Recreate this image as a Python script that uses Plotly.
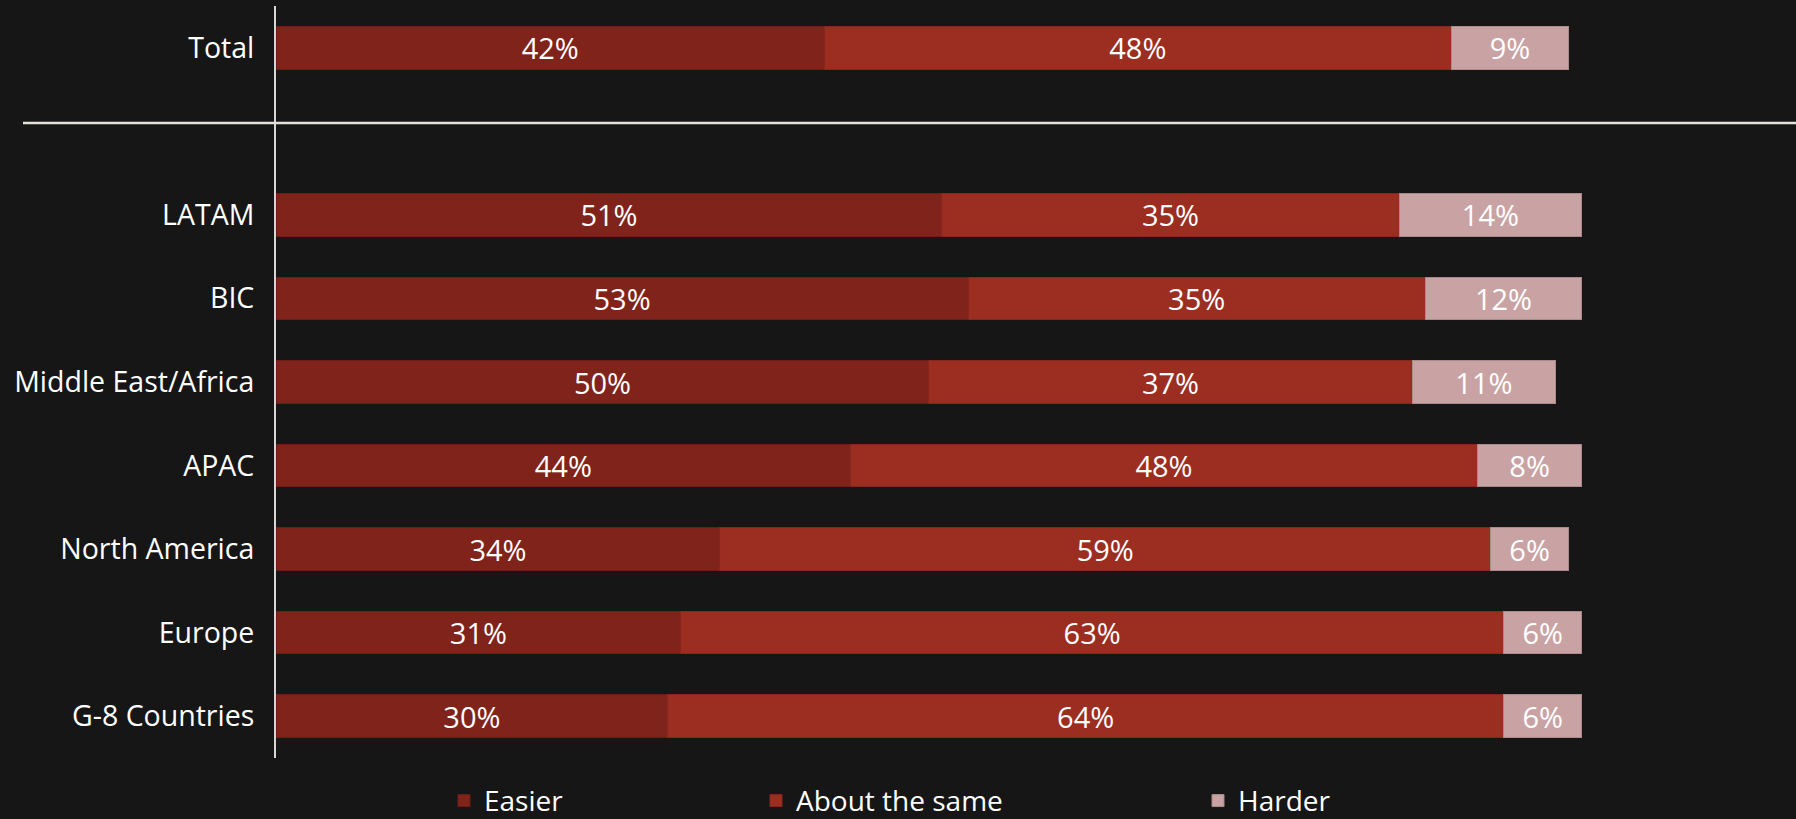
import plotly.graph_objects as go

# Survey results: share of respondents per region
categories = ["Total", "LATAM", "BIC", "Middle East/Africa", "APAC",
              "North America", "Europe", "G-8 Countries"]
easier = [42, 51, 53, 50, 44, 34, 31, 30]
about_same = [48, 35, 35, 37, 48, 59, 63, 64]
harder = [9, 14, 12, 11, 8, 6, 6, 6]

series = [
    ("Easier", easier, "#80231a", "#6e1d16", "legend"),
    ("About the same", about_same, "#9c2d21", "#86261c", "legend2"),
    ("Harder", harder, "#c9a3a3", "#a88a8a", "legend3"),
]

# "Total" sits on its own row, followed by an empty slot before the regions
ypos = [0] + [i + 2 for i in range(len(categories) - 1)]

BG = "#161616"
FONT = "Open Sans"

fig = go.Figure()
for name, vals, color, edge, leg in series:
    fig.add_trace(go.Bar(
        name=name,
        y=ypos,
        x=vals,
        orientation="h",
        width=0.51,
        marker=dict(color=color, line=dict(color=edge, width=1)),
        text=vals,
        texttemplate="%{x}%",
        textposition="inside",
        insidetextanchor="middle",
        textangle=0,
        constraintext="none",
        textfont=dict(family=FONT, size=29, color="#ffffff"),
        legend=leg,
        showlegend=True,
        hoverinfo="skip",
    ))

legend_common = dict(
    orientation="h",
    yanchor="middle",
    y=-0.057,
    xanchor="left",
    bgcolor="rgba(0,0,0,0)",
    font=dict(family=FONT, size=28, color="#ffffff"),
    itemwidth=30,
    visible=True,
)

fig.update_layout(
    width=1796,
    height=819,
    paper_bgcolor=BG,
    plot_bgcolor=BG,
    barmode="stack",
    showlegend=True,
    margin=dict(l=276, r=0, t=6, b=61, autoexpand=False),
    xaxis=dict(
        range=[0, 116.4],
        showgrid=False,
        zeroline=False,
        showticklabels=False,
        showline=False,
        fixedrange=True,
    ),
    yaxis=dict(
        range=[8.5, -0.5],
        tickvals=ypos,
        ticktext=categories,
        showgrid=False,
        zeroline=False,
        showline=True,
        linecolor="#d6d6d6",
        linewidth=2,
        ticks="",
        ticklabelstandoff=14,
        tickfont=dict(family=FONT, size=28.5, color="#ffffff"),
        fixedrange=True,
    ),
    legend=dict(legend_common, x=(444 - 276) / 1520),
    legend2=dict(legend_common, x=(756 - 276) / 1520),
    legend3=dict(legend_common, x=(1198 - 276) / 1520),
    shapes=[
        # divider between the overall total and the regional breakdown
        dict(type="line", xref="paper", yref="y",
             x0=(23 - 276) / 1520, x1=1.0, y0=0.9, y1=0.9,
             line=dict(color="#e6e2da", width=2.5)),
    ],
)

fig.write_html("out.html")
